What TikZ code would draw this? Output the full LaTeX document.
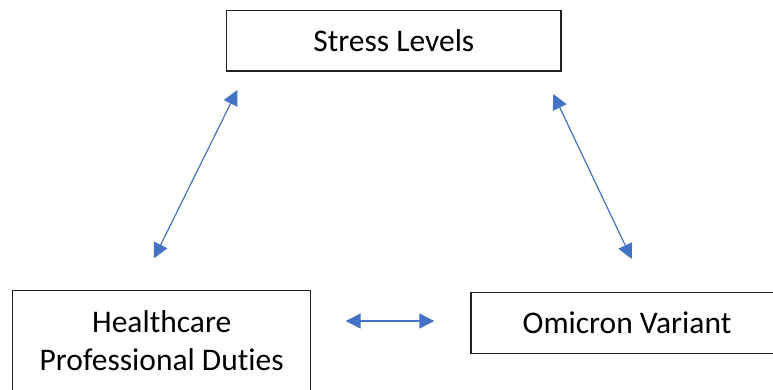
\documentclass[tikz,border=0pt]{standalone}
\usepackage{fontspec}
\setmainfont{Carlito}[Ligatures=NoCommon]
\usetikzlibrary{arrows.meta}
\definecolor{arrowblue}{HTML}{4472C4}
\definecolor{boxline}{HTML}{202020}
\tikzset{
  box/.style={draw=boxline, line width=1.3pt, inner sep=0pt, align=center,
    font=\fontsize{31.5}{38.3}\selectfont},
  link/.style={draw=arrowblue, line width=1.2pt,
    {Triangle[length=15pt,width=15pt]}-{Triangle[length=15pt,width=15pt]}}
}
\begin{document}
\begin{tikzpicture}[x=1pt,y=-1pt]
\useasboundingbox (0,0) rectangle (773,389);
\node[box, minimum width=334.3pt, minimum height=60.3pt] (stress) at (393.8,40.85) {Stress Levels};
\node[box, minimum width=298pt, minimum height=100.6pt] (health) at (161.7,341) {Healthcare\\Professional Duties};
\node[box, minimum width=312pt, minimum height=61pt] (omicron) at (627,322.8) {Omicron Variant};
\coordinate (l1) at (237.3,90);
\coordinate (l2) at (154,258.3);
\coordinate (r1) at (553.3,94);
\coordinate (r2) at (631.7,259);
\coordinate (b1) at (345.7,321);
\coordinate (b2) at (434.3,321);
\draw[link] (l1) -- (l2);
\draw[link] (r1) -- (r2);
\draw[link] (b1) -- (b2);
\end{tikzpicture}
\end{document}
